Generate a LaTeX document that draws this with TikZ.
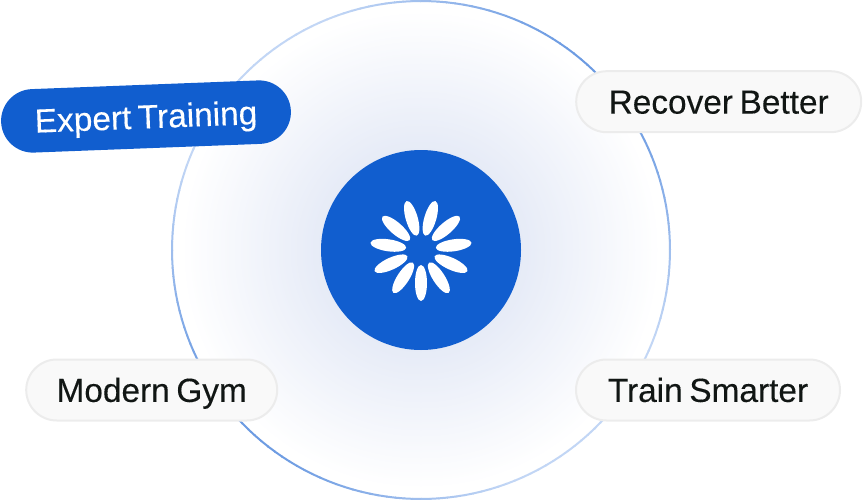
\documentclass[tikz,border=0pt]{standalone}
\usepackage{fontspec}
\setmainfont[FakeBold=0.2]{Liberation Sans}
\usetikzlibrary{shapes.misc,shapes.geometric}
\definecolor{haloC}{HTML}{E6EBF7}
\definecolor{brandblue}{HTML}{115ECF}
\definecolor{ringdark}{HTML}{6C9BE2}
\definecolor{ringlight}{HTML}{C2D6F5}
\definecolor{pillfill}{HTML}{F9F9F9}
\definecolor{pillline}{HTML}{ECECEC}
\definecolor{inkdark}{HTML}{111614}
\tikzset{
  pilltext/.style={font=\fontsize{33.4}{33.4}\selectfont, text height=23.8pt, text depth=0pt,
    execute at begin node={\spaceskip=6.6pt\relax}},
  pill/.style={rounded rectangle, minimum height=61pt, inner sep=0pt, fill=pillfill, draw=pillline, line width=2pt,
    text=inkdark, pilltext},
  bluepill/.style={rounded rectangle, minimum height=63.5pt, minimum width=290pt, inner sep=0pt, fill=brandblue,
    text=white, pilltext},
  petal/.style={fill=white, draw=none}
}
\begin{document}
\begin{tikzpicture}[x=1pt,y=-1pt]
\useasboundingbox (0,0) rectangle (864,500);
\coordinate (c) at (421,250);
\fill[white] (c) circle (249pt);
\foreach \r in {240,238,...,98}{
  \pgfmathsetmacro{\t}{100*(240-\r)/140}
  \fill[color=haloC!\t!white] (c) circle (\r pt);
}
\foreach \a in {0,2,...,358}{
  \pgfmathsetmacro{\t}{max(0,40+60*sin(2*(\a+1)))}
  \pgfmathsetmacro{\xa}{421+249*cos(\a)}
  \pgfmathsetmacro{\ya}{250-249*sin(\a)}
  \pgfmathsetmacro{\xb}{421+249*cos(\a+2.2)}
  \pgfmathsetmacro{\yb}{250-249*sin(\a+2.2)}
  \draw[line width=2pt, color=ringdark!\t!ringlight] (\xa,\ya) -- (\xb,\yb);
}
\node[circle, minimum size=200pt, inner sep=0pt, fill=brandblue] (hub) at (c) {};
\foreach \k in {0,...,10}{
  \pgfmathsetmacro{\ang}{-90+\k*32.727}
  \pgfmathsetmacro{\px}{421+33*cos(\ang)}
  \pgfmathsetmacro{\py}{250-33*sin(\ang)}
  \node[petal, ellipse, minimum width=36pt, minimum height=12pt, inner sep=0pt, rotate=\ang]
    (p\k) at (\px,\py) {};
}
\node[bluepill, rotate=2.2] (expert) at (146,116.5) {Expert Training};
\node[pill, minimum width=285pt] (recover) at (718.7,101.7) {Recover Better};
\node[pill, minimum width=251pt] (gym) at (151.7,390) {Modern Gym};
\node[pill, minimum width=264pt] (train) at (708,390) {Train Smarter};
\end{tikzpicture}
\end{document}
